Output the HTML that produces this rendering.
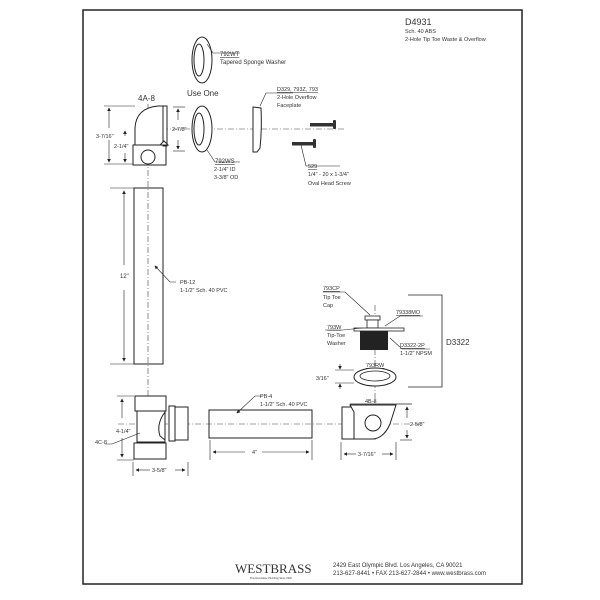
<!DOCTYPE html>
<html><head><style>
html,body{margin:0;padding:0;background:#fff;}
svg{display:block;}
text{font-family:"Liberation Sans",sans-serif;fill:#333;}
</style></head><body>
<svg width="600" height="600" viewBox="0 0 600 600" xmlns="http://www.w3.org/2000/svg">
<defs>
<marker id="a" markerWidth="6" markerHeight="6" refX="5" refY="3" orient="auto"><path d="M0,0 L6,3 L0,6 z" fill="#222"/></marker>
</defs>
<rect x="83" y="10" width="439" height="574" fill="none" stroke="#222" stroke-width="1.5"/>

<g stroke="#444" stroke-width="0.6" stroke-dasharray="6,2,1,2" fill="none">
<line x1="140" y1="129" x2="345" y2="129"/>
<line x1="148" y1="104" x2="148" y2="450"/>
<line x1="118" y1="424" x2="420" y2="424"/>
<line x1="375" y1="305" x2="375" y2="440"/>
</g>

<text x="405" y="25" font-size="9">D4931</text>
<text x="405" y="33" font-size="5.5">Sch. 40 ABS</text>
<text x="405" y="41" font-size="5.5">2-Hole Tip Toe Waste &amp; Overflow</text>

<g fill="#fff" stroke="#222" stroke-width="1">
<ellipse cx="202" cy="60" rx="10" ry="23"/>
<ellipse cx="199" cy="60" rx="5" ry="16"/>
<ellipse cx="202" cy="129" rx="10" ry="23"/>
<ellipse cx="199" cy="129" rx="5" ry="16"/>
</g>
<polyline points="207,44 213,53 240,53" fill="none" stroke="#222" stroke-width="0.6"/>
<text x="220" y="56" font-size="6" text-decoration="underline">792WT</text>
<text x="220" y="64" font-size="6">Tapered Sponge Washer</text>
<text x="187" y="96" font-size="8">Use One</text>
<text x="138" y="101" font-size="8">4A-8</text>

<g stroke="#222" stroke-width="1" fill="#fff">
<path d="M135,145 L135,128 Q136,108 158,106 L164,106 L164,145 Z"/>
<rect x="133" y="145" width="33" height="20"/>
<circle cx="148" cy="157" r="7"/>
<rect x="163" y="106" width="4" height="40"/>
<path d="M160,145 l4,-4 l4,4 z"/>
</g>
<g stroke="#222" stroke-width="0.6" fill="none">
<line x1="104" y1="106" x2="135" y2="106"/><line x1="104" y1="164" x2="133" y2="164"/>
<line x1="109" y1="128" x2="109" y2="108" marker-end="url(#a)"/>
<line x1="109" y1="140" x2="109" y2="162" marker-end="url(#a)"/>
<line x1="125" y1="136" x2="125" y2="131" marker-end="url(#a)"/>
<line x1="125" y1="153" x2="125" y2="162" marker-end="url(#a)"/>
<line x1="173" y1="107" x2="185" y2="107"/><line x1="173" y1="151" x2="185" y2="151"/>
<line x1="178" y1="120" x2="178" y2="109" marker-end="url(#a)"/>
<line x1="178" y1="140" x2="178" y2="149" marker-end="url(#a)"/>
</g>
<text x="96" y="138" font-size="5.5">3-7/16"</text>
<text x="114" y="148" font-size="5.5">2-1/4"</text>
<text x="172" y="131" font-size="5.5">2-7/8"</text>

<polyline points="207,150 215,162 240,162" fill="none" stroke="#222" stroke-width="0.6"/>
<text x="215" y="163" font-size="6" text-decoration="underline">792WS</text>
<text x="214" y="171" font-size="5.5">2-1/4" ID</text>
<text x="214" y="179" font-size="5.5">3-3/8" OD</text>

<path d="M253,107 L261,108 Q262,130 260,148 L257,152 L253,152 Z" fill="#fff" stroke="#222" stroke-width="1"/>
<polyline points="260,106 266,93 293,93" fill="none" stroke="#222" stroke-width="0.6"/>
<text x="277" y="91" font-size="5.5" text-decoration="underline">D329, 793Z, 793</text>
<text x="277" y="99" font-size="5.5">2-Hole Overflow</text>
<text x="277" y="107" font-size="5.5">Faceplate</text>

<rect x="310" y="123" width="24" height="3.5" fill="#333"/><rect x="333" y="120" width="3" height="9" rx="1" fill="#333"/>
<rect x="292" y="142" width="22" height="3.5" fill="#333"/><rect x="313" y="139" width="3" height="9" rx="1" fill="#333"/>
<polyline points="301,145 306,166 340,166" fill="none" stroke="#222" stroke-width="0.6"/>
<text x="308" y="168" font-size="5.5" text-decoration="underline">529</text>
<text x="308" y="176" font-size="5.5">1/4" - 20 x 1-3/4"</text>
<text x="308" y="185" font-size="5.5">Oval Head Screw</text>

<rect x="134" y="188" width="29" height="176" fill="none" stroke="#222" stroke-width="1"/>
<g stroke="#222" stroke-width="0.6" fill="none">
<line x1="110" y1="188" x2="134" y2="188"/><line x1="110" y1="364" x2="134" y2="364"/>
<line x1="124" y1="265" x2="124" y2="191" marker-end="url(#a)"/>
<line x1="124" y1="290" x2="124" y2="361" marker-end="url(#a)"/>
<polyline points="176,282 170,282 155,266" marker-end="url(#a)"/>
</g>
<text x="120" y="278" font-size="6">12"</text>
<text x="180" y="284" font-size="5.5">PB-12</text>
<text x="180" y="292" font-size="5.5">1-1/2" Sch. 40 PVC</text>

<g stroke="#222" stroke-width="1" fill="#fff">
<rect x="135" y="396" width="31" height="15"/>
<rect x="137" y="411" width="28" height="31"/>
<rect x="134" y="443" width="32" height="16"/>
<path d="M165,412 Q156,424 160,436 L165,440 Z"/>
<rect x="169" y="406" width="6" height="35"/>
<rect x="175" y="407" width="13" height="33"/>
</g>
<g stroke="#222" stroke-width="0.6" fill="none">
<line x1="117" y1="396" x2="134" y2="396"/><line x1="117" y1="460" x2="134" y2="460"/>
<line x1="122" y1="418" x2="122" y2="399" marker-end="url(#a)"/>
<line x1="122" y1="438" x2="122" y2="457" marker-end="url(#a)"/>
<line x1="133" y1="462" x2="133" y2="476"/><line x1="188" y1="462" x2="188" y2="476"/>
<line x1="150" y1="470" x2="136" y2="470" marker-end="url(#a)"/>
<line x1="175" y1="470" x2="185" y2="470" marker-end="url(#a)"/>
<polyline points="105,444 112,444 140,433"/>
</g>
<text x="116" y="433" font-size="5.5">4-1/4"</text>
<text x="95" y="444" font-size="5.5">4C-8</text>
<text x="152" y="472" font-size="5.5">3-5/8"</text>

<rect x="209" y="410" width="103" height="28" fill="none" stroke="#222" stroke-width="1"/>
<g stroke="#222" stroke-width="0.6" fill="none">
<line x1="210" y1="440" x2="210" y2="460"/><line x1="312" y1="440" x2="312" y2="460"/>
<line x1="245" y1="452" x2="213" y2="452" marker-end="url(#a)"/>
<line x1="262" y1="452" x2="309" y2="452" marker-end="url(#a)"/>
<polyline points="262,396 255,396 237,413" marker-end="url(#a)"/>
</g>
<text x="252" y="454" font-size="5.5">4"</text>
<text x="260" y="398" font-size="5.5">PB-4</text>
<text x="260" y="406" font-size="5.5">1-1/2" Sch. 40 PVC</text>

<g stroke="#222" stroke-width="1" fill="#fff">
<rect x="342" y="407" width="12" height="32"/>
<path d="M350,405 L396,405 L390,424 Q383,440 370,439 L354,439 L354,412 Z"/>
<circle cx="373" cy="423" r="8"/>
</g>
<line x1="350" y1="404" x2="412" y2="404" stroke="#222" stroke-width="0.8"/>
<g stroke="#222" stroke-width="0.6" fill="none">
<line x1="400" y1="440" x2="412" y2="440"/>
<line x1="407" y1="418" x2="407" y2="407" marker-end="url(#a)"/>
<line x1="407" y1="430" x2="407" y2="438" marker-end="url(#a)"/>
<line x1="341" y1="442" x2="341" y2="460"/><line x1="396" y1="442" x2="396" y2="460"/>
<line x1="356" y1="454" x2="344" y2="454" marker-end="url(#a)"/>
<line x1="382" y1="454" x2="393" y2="454" marker-end="url(#a)"/>
</g>
<text x="365" y="403" font-size="5.5">4B-8</text>
<text x="410" y="426" font-size="5.5">2-5/8"</text>
<text x="358" y="456" font-size="5.5">3-7/16"</text>

<polyline points="408,295 442,295 442,387 408,387" fill="none" stroke="#222" stroke-width="0.8"/>
<text x="446" y="345" font-size="8">D3322</text>
<g stroke="#222" stroke-width="0.8" fill="#fff">
<rect x="365" y="316" width="15" height="4"/>
<rect x="367" y="320" width="11" height="8"/>
<rect x="354" y="328" width="50" height="3"/>
</g>
<rect x="360" y="331" width="28" height="19" fill="#222"/>
<g stroke="#222" stroke-width="0.6" fill="none">
<polyline points="323,292 345,292 370,315"/>
<polyline points="423,316 400,316 385,326"/>
<polyline points="325,330 343,330 362,328"/>
<polyline points="430,349 402,349 390,338"/>
</g>
<text x="323" y="290" font-size="5.5" text-decoration="underline">793CP</text>
<text x="323" y="299" font-size="5.5">Tip Toe</text>
<text x="323" y="307" font-size="5.5">Cap</text>
<text x="396" y="314" font-size="5.5" text-decoration="underline">79338MO</text>
<text x="327" y="329" font-size="5.5" text-decoration="underline">793W</text>
<text x="327" y="337" font-size="5.5">Tip-Toe</text>
<text x="327" y="345" font-size="5.5">Washer</text>
<text x="400" y="347" font-size="5.5" text-decoration="underline">D3322-2P</text>
<text x="400" y="355" font-size="5.5">1-1/2" NPSM</text>
<ellipse cx="375" cy="377" rx="21" ry="9" fill="#fff" stroke="#222" stroke-width="1"/>
<ellipse cx="375" cy="376" rx="15" ry="5" fill="#fff" stroke="#222" stroke-width="0.8"/>
<text x="366" y="367" font-size="5.5" text-decoration="underline">793RW</text>
<g stroke="#222" stroke-width="0.6" fill="none">
<line x1="335" y1="370" x2="354" y2="370"/><line x1="335" y1="383" x2="354" y2="383"/>
<line x1="340" y1="364" x2="340" y2="369" marker-end="url(#a)"/>
<line x1="340" y1="389" x2="340" y2="384" marker-end="url(#a)"/>
</g>
<text x="316" y="380" font-size="5.5">3/16"</text>

<text x="235" y="573" font-size="13" style="font-family:'Liberation Serif',serif" fill="#333">WESTBRASS</text>
<text x="250" y="579" font-size="2.5">Fine Decorative Plumbing Since 1930</text>
<text x="333" y="567" font-size="6">2429 East Olympic Blvd. Los Angeles, CA 90021</text>
<text x="333" y="575" font-size="6">213-627-8441 • FAX 213-627-2844 • www.westbrass.com</text>
</svg>
</body></html>
